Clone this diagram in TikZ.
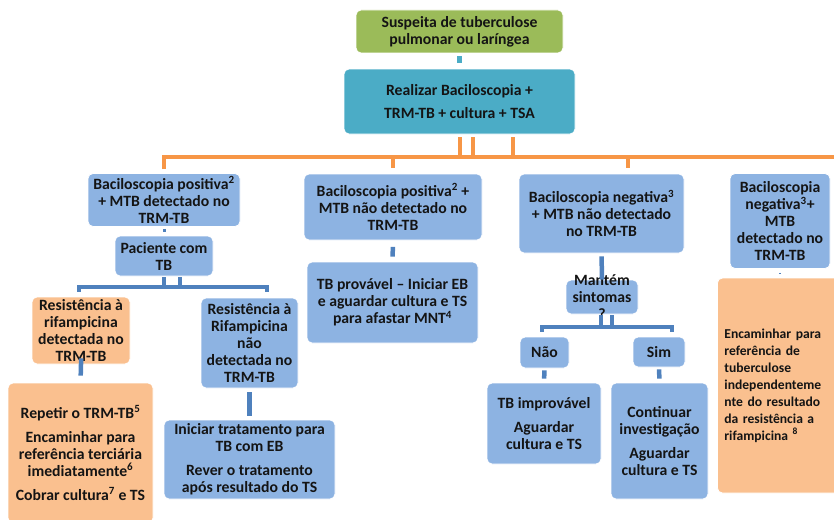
\documentclass[tikz,border=0pt]{standalone}
\usepackage{fontspec}
\setmainfont{Carlito}
\usetikzlibrary{calc}
\definecolor{bxblue}{RGB}{141,179,226}
\definecolor{bxorange}{RGB}{250,192,143}
\definecolor{bxgreen}{RGB}{155,187,89}
\definecolor{bxteal}{RGB}{75,172,198}
\definecolor{lnorange}{RGB}{247,150,70}
\definecolor{lnblue}{RGB}{79,129,189}
\definecolor{txt}{RGB}{20,20,20}
\begin{document}
\begin{tikzpicture}[x=1pt,y=-1pt,
  box/.style={rounded corners=5pt, draw=white, line width=0.8pt, align=center,
    inner sep=1pt, text=txt, font=\bfseries\fontsize{15.7}{17}\selectfont},
  bluebox/.style={box, fill=bxblue},
  orbox/.style={box, fill=bxorange},
  oline/.style={draw=lnorange, line width=4.5pt},
  bline/.style={draw=lnblue, line width=4.5pt},
  tline/.style={draw=bxteal, line width=5pt}]
\useasboundingbox (0,0) rectangle (834,519);
\clip (0,0) rectangle (834,519);

% top
\node[box, fill=bxgreen, minimum width=207pt, minimum height=43pt] (susp) at (459.5,31.5)
  {Suspeita de tuberculose\\pulmonar ou laríngea};
\node[box, fill=bxteal, minimum width=231pt, minimum height=65pt,
  font=\bfseries\fontsize{15.7}{23}\selectfont] (real) at (459.5,101.5)
  {Realizar Baciloscopia +\\TRM-TB + cultura + TSA};

% branch 1
\node[bluebox, minimum width=152pt, minimum height=53pt] (b1) at (164,200)
  {Baciloscopia positiva\textsuperscript{2}\\+ MTB detectado no\\TRM-TB};
\node[bluebox, minimum width=98pt, minimum height=40pt] (pac) at (164,256)
  {Paciente com\\TB};
\node[orbox, minimum width=98pt, minimum height=67pt] (rdet) at (81,330.5)
  {Resistência à\\rifampicina\\detectada no\\TRM-TB};
\node[bluebox, minimum width=97pt, minimum height=90pt] (rnd) at (249.5,343)
  {Resistência à\\Rifampicina\\não\\detectada no\\TRM-TB};
\node[orbox, minimum width=145pt, minimum height=140pt] (rep) at (80.5,453)
  {Repetir o TRM-TB\textsuperscript{5}\\[7pt]Encaminhar para\\referência terciária\\imediatamente\textsuperscript{6}\\[7pt]Cobrar cultura\textsuperscript{7} e TS};
\node[bluebox, minimum width=171pt, minimum height=79pt] (ini) at (249.5,459.5)
  {Iniciar tratamento para\\TB com EB\\[7pt]Rever o tratamento\\após resultado do TS};

% branch 2
\node[bluebox, minimum width=178pt, minimum height=66pt] (b2) at (393,207)
  {Baciloscopia positiva\textsuperscript{2} +\\MTB não detectado no\\TRM-TB};
\node[bluebox, minimum width=171pt, minimum height=81pt] (tbp) at (392.5,302.5)
  {TB provável -- Iniciar EB\\e aguardar cultura e TS\\para afastar MNT\textsuperscript{4}};

% branch 3
\node[bluebox, minimum width=165pt, minimum height=79pt] (b3) at (601.5,213.5)
  {Baciloscopia negativa\textsuperscript{3}\\+ MTB não detectado\\no TRM-TB};
\node[bluebox, minimum width=72pt, minimum height=34pt, inner ysep=-10pt] (mant) at (602,297)
  {Mantém\\sintomas\\?};
\node[bluebox, minimum width=49pt, minimum height=31pt] (nao) at (544.5,352.5) {Não};
\node[bluebox, minimum width=52pt, minimum height=30pt] (sim) at (659,352) {Sim};
\node[bluebox, minimum width=114pt, minimum height=81pt] (tbi) at (544,423.5)
  {TB improvável\\[7pt]Aguardar\\cultura e TS};
\node[bluebox, minimum width=97pt, minimum height=116pt] (cont) at (659.5,441)
  {Continuar\\investigação\\[7pt]Aguardar\\cultura e TS};

% branch 4
\node[bluebox, minimum width=100pt, minimum height=95pt] (b4) at (780,221)
  {Baciloscopia\\negativa\textsuperscript{3}+\\MTB\\detectado no\\TRM-TB};
\node[orbox, anchor=west, text width=160pt, inner xsep=7pt, align=left,
  font=\bfseries\fontsize{13.6}{17}\selectfont,
  minimum height=215pt] (enc) at (717,385.5)
  {Encaminhar para\\referência de\\tuberculose\\independenteme\\nte do resultado\\da resistência a\\rifampicina \textsuperscript{8}};

% connectors
\draw[tline, shorten <=3pt, shorten >=6pt] (susp.south) -- (real.north);

\coordinate (obus) at (850,157);
\draw[oline] ([shift={(0.5pt,-3pt)}]real.south) -- ([xshift=0.5pt]real.south |- obus);
\draw[oline] ([shift={(13.5pt,-3pt)}]real.south) -- ([xshift=13.5pt]real.south |- obus);
\draw[oline] ([shift={(53.5pt,-3pt)}]real.south) -- ([xshift=53.5pt]real.south |- obus);
\draw[oline, shorten <=4pt] (b1.north) |- (obus);
\draw[oline, shorten >=6pt] (b2.north |- obus) -- (b2.north);
\draw[oline, shorten >=6pt] ([xshift=26.5pt]b3.north |- obus) -- ([xshift=26.5pt]b3.north);

\draw[bline, line width=3pt, shorten <=2pt, shorten >=4pt] (b1.south) -- (pac.north);
\coordinate (pbus) at (0,287);
\draw[bline, shorten <=1pt] (pac.south) -- (pac.south |- pbus);
\draw[bline, shorten <=1pt] ([xshift=16pt]pac.south) -- ([xshift=16pt]pac.south |- pbus);
\draw[bline, shorten <=5pt, shorten >=6pt] ([xshift=-2pt]rdet.north) |- ([xshift=17.5pt]rnd.north |- pbus) -- ([xshift=17.5pt]rnd.north);
\draw[bline, shorten <=-6pt, shorten >=7pt] (rdet.south) -- (rep.north);
\draw[bline, shorten <=4pt, shorten >=4pt] (rnd.south) -- (ini.north);

\draw[bline, shorten <=6.5pt, shorten >=5pt] (b2.south) -- (tbp.north);

\draw[bline, shorten <=3pt] (b3.south) -- (mant.north);
\coordinate (mbus) at (0,327);
\draw[bline, shorten <=1pt] ([xshift=-1pt]mant.south) -- ([xshift=-1pt]mant.south |- mbus);
\draw[bline, shorten <=1pt] ([xshift=10pt]mant.south) -- ([xshift=10pt]mant.south |- mbus);
\draw[bline, shorten <=5pt, shorten >=5pt] ([xshift=-2.5pt]nao.north) |- ([xshift=13pt]sim.north |- mbus) -- ([xshift=13pt]sim.north);
\draw[bline, shorten <=2pt, shorten >=4pt] (nao.south) -- (tbi.north);
\draw[bline, shorten <=2pt, shorten >=4pt] (sim.south) -- (cont.north);

\draw[bline, line width=2pt, shorten <=4pt, shorten >=4pt] (b4.south) -- (b4.south |- enc.north);
\end{tikzpicture}
\end{document}
